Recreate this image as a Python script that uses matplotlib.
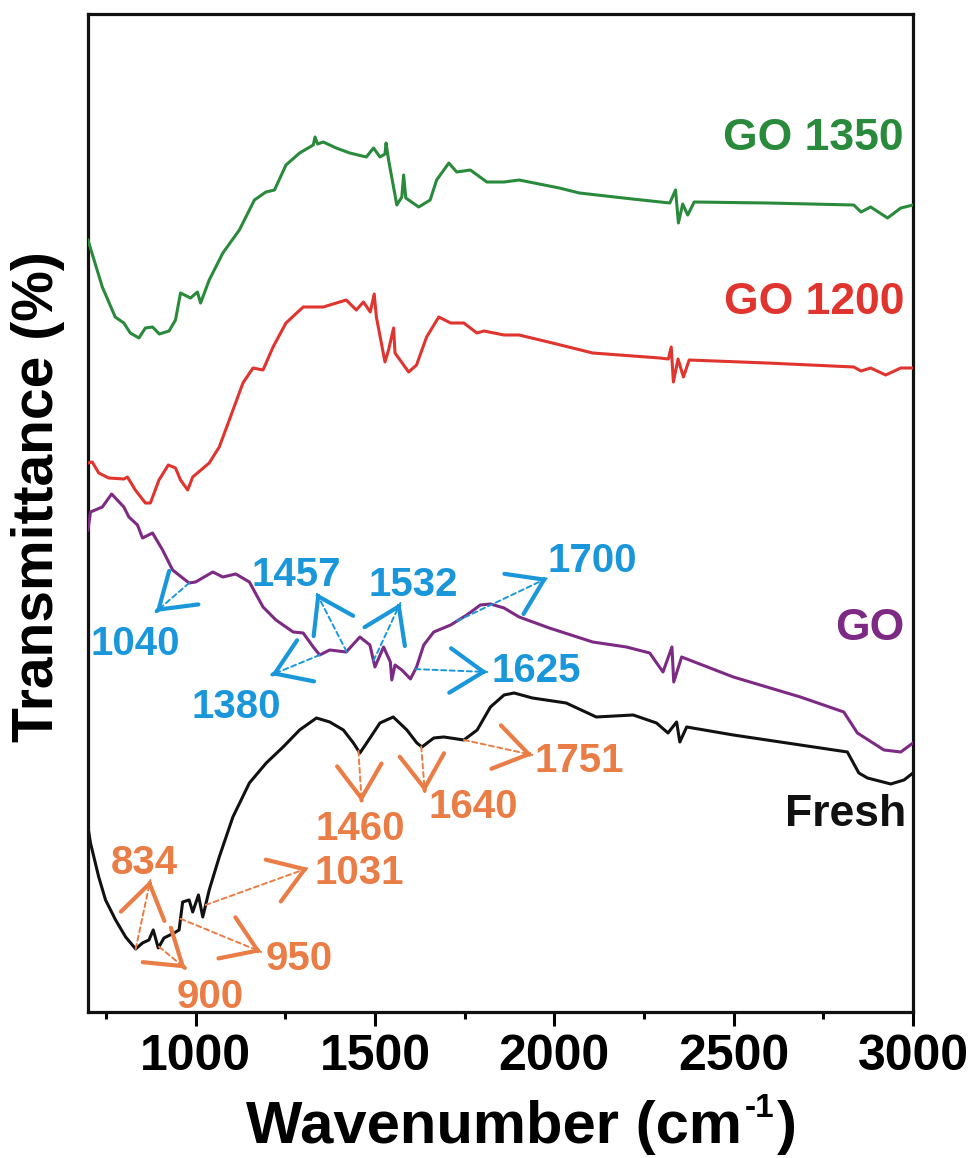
import numpy as np
import matplotlib
matplotlib.use("Agg")
import matplotlib.pyplot as plt
from matplotlib.ticker import MultipleLocator

plt.rcParams["font.family"] = ["Liberation Sans", "DejaVu Sans"]
plt.rcParams["font.weight"] = "bold"

# ---------------- FTIR spectra (offset transmittance, a.u.) ----------------
wn_go1350 = [700, 740, 776, 800, 818, 842, 860, 880, 899, 926, 944, 958, 986, 1005,
             1014, 1038, 1076, 1122, 1164, 1196, 1220, 1252, 1290, 1328, 1333, 1340,
             1356, 1392, 1430, 1476, 1496, 1514, 1528, 1531, 1538, 1561, 1575, 1580,
             1586, 1622, 1654, 1672, 1706, 1728, 1766, 1812, 1860, 1902, 2014, 2070,
             2218, 2322, 2338, 2346, 2358, 2372, 2390, 2594, 2835, 2855, 2882, 2929,
             2966, 3000]
t_go1350 = [77.2, 72.5, 69.5, 68.9, 67.9, 67.4, 68.4, 68.5, 67.8, 68.1, 69.2, 71.9, 71.4,
            72.0, 70.9, 73.2, 75.9, 78.2, 81.2, 82.0, 82.2, 84.7, 85.9, 86.7, 87.5, 86.8,
            87.0, 86.4, 85.9, 85.5, 86.4, 85.5, 85.8, 86.9, 85.2, 80.7, 81.5, 83.7, 81.4,
            80.5, 81.2, 83.2, 84.9, 84.0, 84.2, 83.0, 83.0, 83.2, 82.4, 81.9, 81.3, 80.9,
            82.2, 78.9, 80.8, 79.7, 81.0, 80.9, 80.7, 80.0, 80.5, 79.4, 80.4, 80.7]

wn_go1200 = [700, 712, 730, 758, 800, 810, 832, 860, 874, 898, 924, 944, 958, 978, 992,
             1038, 1066, 1094, 1132, 1160, 1188, 1216, 1252, 1300, 1356, 1420, 1448,
             1468, 1487, 1498, 1504, 1528, 1538, 1552, 1556, 1594, 1616, 1644, 1678,
             1711, 1748, 1784, 1804, 1860, 1902, 1995, 2107, 2294, 2318, 2326, 2332,
             2345, 2360, 2376, 2593, 2835, 2855, 2882, 2924, 2966, 3000]
t_go1200 = [54.9, 55.0, 53.9, 53.4, 53.3, 53.5, 52.2, 50.9, 50.9, 53.2, 54.7, 54.4, 53.2,
            52.2, 53.5, 54.9, 56.5, 59.2, 62.9, 64.4, 64.2, 66.5, 68.9, 70.5, 70.5, 71.2,
            70.2, 71.0, 70.0, 71.8, 69.5, 65.0, 66.2, 68.4, 65.9, 64.0, 64.7, 67.5, 69.5,
            68.9, 68.9, 67.9, 68.1, 67.7, 67.7, 66.9, 65.9, 65.4, 65.3, 66.5, 63.0, 65.3,
            63.5, 65.2, 64.9, 64.5, 64.1, 64.4, 63.7, 64.4, 64.4]

wn_go = [700, 707, 740, 766, 800, 814, 838, 852, 880, 908, 936, 964, 982, 1000, 1048,
         1076, 1112, 1150, 1188, 1224, 1272, 1300, 1328, 1346, 1374, 1420, 1458, 1486,
         1500, 1524, 1543, 1547, 1556, 1575, 1599, 1616, 1636, 1664, 1711, 1756, 1794,
         1822, 1860, 1902, 1986, 2107, 2201, 2266, 2303, 2328, 2333, 2355, 2499, 2686,
         2807, 2845, 2919, 2966, 3000]
t_go = [48.2, 50.0, 50.5, 51.8, 50.5, 49.5, 48.7, 47.4, 47.9, 46.2, 44.2, 43.4, 42.9,
        43.0, 44.0, 43.5, 43.8, 43.0, 40.5, 39.2, 38.0, 37.9, 36.5, 35.7, 36.2, 36.0,
        37.5, 36.7, 34.5, 36.5, 35.0, 33.2, 34.7, 34.2, 33.3, 34.5, 36.7, 38.0, 38.7,
        39.7, 40.7, 40.8, 40.4, 39.5, 38.4, 37.0, 36.5, 35.9, 34.0, 36.5, 33.0, 35.5,
        33.5, 31.5, 30.0, 27.9, 26.2, 26.0, 26.9]

wn_fresh = [700, 707, 730, 749, 777, 805, 833, 852, 870, 882, 896, 912, 940, 954, 964,
            982, 992, 1008, 1020, 1038, 1066, 1104, 1150, 1197, 1244, 1290, 1337, 1374,
            1412, 1440, 1458, 1477, 1514, 1551, 1589, 1617, 1631, 1664, 1692, 1748, 1785,
            1822, 1860, 1888, 1939, 2033, 2117, 2220, 2285, 2317, 2341, 2350, 2369, 2499,
            2686, 2817, 2849, 2873, 2938, 2975, 3000]
t_fresh = [18.5, 16.9, 13.5, 11.2, 9.2, 7.5, 6.3, 6.9, 7.2, 8.2, 6.4, 7.4, 7.9, 8.2, 11.0,
           11.2, 10.0, 11.7, 9.5, 12.2, 15.5, 19.5, 22.9, 24.9, 26.5, 28.2, 29.4, 29.0,
           28.2, 26.9, 25.9, 26.9, 28.9, 29.5, 28.2, 26.9, 26.5, 27.4, 27.5, 27.2, 28.2,
           30.5, 31.7, 31.9, 31.4, 30.9, 29.5, 29.7, 28.9, 27.9, 29.0, 27.0, 28.5, 27.7,
           26.7, 26.0, 23.9, 23.4, 22.8, 23.2, 23.9]

series_names = ["GO 1350", "GO 1200", "GO", "Fresh"]
series_colors = ["#2A8A3B", "#E0342E", "#7D2A85", "#111111"]

# ---------------- Peak assignments ----------------
# Fresh sample (orange): label, band wavenumber, arrow tip (wn, T), text anchor (wn, T, align)
fresh_peaks = ["834", "900", "950", "1031", "1460", "1640", "1751"]
fresh_peak_wn = [833, 898, 958, 1028, 1454, 1629, 1748]
fresh_tips = [(874, 13.2), (972, 4.35), (1183, 6.0), (1314, 14.4), (1463, 21.0),
              (1639, 22.0), (1939, 25.7)]
fresh_text = [(856, 14.9, "center"), (1042, 1.5, "center"), (1196, 5.3, "left"),
              (1332, 13.9, "left"), (1458, 18.3, "center"), (1650, 20.5, "left"),
              (1944, 25.1, "left")]

# GO sample (blue)
go_peaks = ["1040", "1380", "1457", "1532", "1625", "1700"]
go_peak_wn = [982, 1346, 1421, 1496, 1613, 1729]
go_tips = [(889, 40.0), (1211, 33.7), (1337, 41.9), (1571, 40.9), (1813, 34.0),
           (1981, 43.4)]
go_text = [(832, 36.8, "center"), (1112, 30.5, "center"), (1280, 43.7, "center"),
           (1608, 42.7, "center"), (1826, 34.05, "left"), (1980, 45.05, "left")]

orange = "#EA7C45"
blue = "#1A97DB"

fig = plt.figure(figsize=(9.72, 11.58), dpi=100)
ax = fig.add_axes([0.0905, 0.1261, 0.8488, 0.8618])

curves = [(wn_go1350, t_go1350), (wn_go1200, t_go1200), (wn_go, t_go), (wn_fresh, t_fresh)]
for (w, t), c in zip(curves, series_colors):
    ax.plot(w, t, color=c, lw=2.2, solid_joinstyle="round", zorder=3)


def mark_peaks(wn_c, t_c, labels, peak_wn, tips, texts, color):
    for lab, pw, tip, (tx, ty, ha) in zip(labels, peak_wn, tips, texts):
        y0 = float(np.interp(pw, wn_c, t_c))
        # dashed guide from the band to the arrow tip
        ax.annotate("", xy=tip, xytext=(pw, y0),
                    arrowprops=dict(arrowstyle="-", linestyle=(0, (2.6, 1.8)), lw=1.4,
                                    color=color, shrinkA=0, shrinkB=0), zorder=4)
        # open arrow head
        dx, dy = tip[0] - pw, tip[1] - y0
        ax.annotate("", xy=tip, xytext=(tip[0] - 0.03 * dx, tip[1] - 0.03 * dy),
                    arrowprops=dict(arrowstyle="->,head_length=1.2,head_width=0.8",
                                    lw=3.0, color=color, shrinkA=0, shrinkB=0,
                                    mutation_scale=20, joinstyle="miter"), zorder=4)
        ax.text(tx, ty, lab, color=color, fontsize=29, fontweight="bold",
                ha=ha, va="center", zorder=5)


mark_peaks(wn_fresh, t_fresh, fresh_peaks, fresh_peak_wn, fresh_tips, fresh_text, orange)
mark_peaks(wn_go, t_go, go_peaks, go_peak_wn, go_tips, go_text, blue)

# Curve names
name_pos = [(2975, 87.4), (2975, 71.0), (2975, 38.3), (2982, 19.7)]
for name, c, (x, y) in zip(series_names, series_colors, name_pos):
    ax.text(x, y, name, color=c, fontsize=32, fontweight="bold", ha="right", va="center")

ax.set_xlim(700, 3000)
ax.set_ylim(0, 99.8)
ax.xaxis.set_major_locator(MultipleLocator(500))
ax.xaxis.set_minor_locator(MultipleLocator(250))
ax.set_yticks([])
ax.tick_params(axis="x", which="major", direction="out", length=10, width=2.2,
               labelsize=36, pad=6, top=False)
ax.tick_params(axis="x", which="minor", direction="out", length=5, width=2.2, top=False)
for lab in ax.get_xticklabels():
    lab.set_fontweight("bold")
for sp in ax.spines.values():
    sp.set_linewidth(2.3)
    sp.set_color("#111111")

# x-axis title with a small text superscript
renderer = fig.canvas.get_renderer()
main = fig.text(0.2531, 0.0130, "Wavenumber (cm", fontsize=43, fontweight="bold",
                ha="left", va="baseline")
bb = main.get_window_extent(renderer)
sup = fig.text(bb.x1 / fig.bbox.width + 0.003, 0.0350, "-1", fontsize=24,
               fontweight="bold", ha="left", va="baseline")
bb2 = sup.get_window_extent(renderer)
fig.text(bb2.x1 / fig.bbox.width + 0.002, 0.0130, ")", fontsize=43, fontweight="bold",
         ha="left", va="baseline")

fig.text(0.039, 0.571, "Transmittance (%)", fontsize=41, fontweight="bold",
         rotation=90, ha="center", va="center")

fig.savefig("out.png", dpi=100)
